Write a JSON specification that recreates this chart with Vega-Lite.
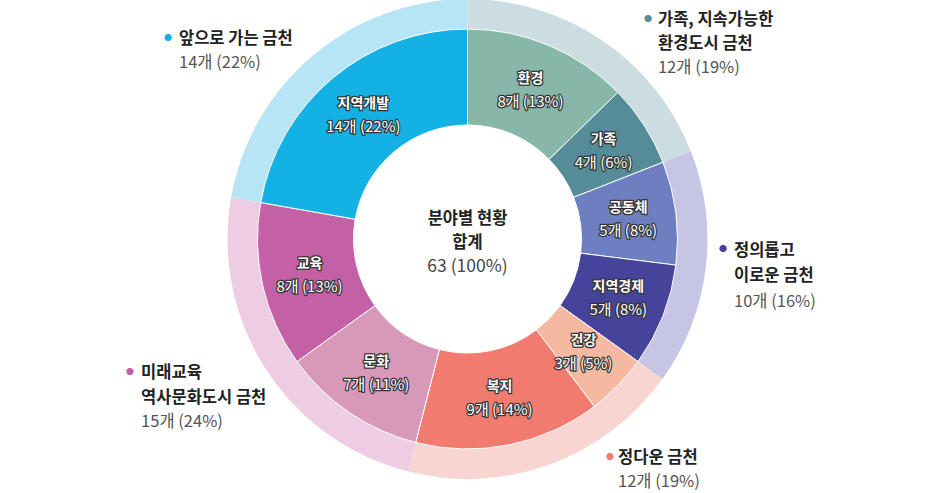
{
  "$schema": "https://vega.github.io/schema/vega-lite/v6.json",
  "width": 935,
  "height": 478,
  "autosize": "none",
  "padding": {"left": 0, "top": 0, "right": 1, "bottom": 15},
  "background": "white",
  "config": {"view": {"stroke": null}, "font": "Noto Sans CJK KR"},
  "datasets": {
    "inner": [
      {"o": 1, "name": "환경", "n": 8, "label": "8개 (13%)"},
      {"o": 2, "name": "가족", "n": 4, "label": "4개 (6%)"},
      {"o": 3, "name": "공동체", "n": 5, "label": "5개 (8%)"},
      {"o": 4, "name": "지역경제", "n": 5, "label": "5개 (8%)"},
      {"o": 5, "name": "건강", "n": 3, "label": "3개 (5%)"},
      {"o": 6, "name": "복지", "n": 9, "label": "9개 (14%)"},
      {"o": 7, "name": "문화", "n": 7, "label": "7개 (11%)"},
      {"o": 8, "name": "교육", "n": 8, "label": "8개 (13%)"},
      {"o": 9, "name": "지역개발", "n": 14, "label": "14개 (22%)"}
    ],
    "outer": [
      {"o": 1, "g": "가족, 지속가능한 환경도시 금천", "lines": "가족, 지속가능한\n환경도시 금천", "n": 12, "label": "12개 (19%)"},
      {"o": 2, "g": "정의롭고 이로운 금천", "lines": "정의롭고\n이로운 금천", "n": 10, "label": "10개 (16%)"},
      {"o": 3, "g": "정다운 금천", "lines": "정다운 금천", "n": 12, "label": "12개 (19%)"},
      {"o": 4, "g": "미래교육 역사문화도시 금천", "lines": "미래교육\n역사문화도시 금천", "n": 15, "label": "15개 (24%)"},
      {"o": 5, "g": "앞으로 가는 금천", "lines": "앞으로 가는 금천", "n": 14, "label": "14개 (22%)"}
    ],
    "center": [
      {"title": "분야별 현황\n합계", "total": "63 (100%)"}
    ]
  },
  "layer": [
    {
      "data": {"name": "outer"},
      "mark": {"type": "arc", "outerRadius": 240, "innerRadius": 210},
      "encoding": {
        "theta": {"field": "n", "type": "quantitative", "stack": true},
        "order": {"field": "o", "type": "quantitative"},
        "color": {
          "field": "g", "type": "nominal", "legend": null,
          "scale": {
            "domain": ["환경", "가족", "공동체", "지역경제", "건강", "복지", "문화", "교육", "지역개발",
                       "가족, 지속가능한 환경도시 금천", "정의롭고 이로운 금천", "정다운 금천", "미래교육 역사문화도시 금천", "앞으로 가는 금천"],
            "range": ["#86b7a8", "#558c98", "#6e7fc1", "#46449a", "#f5b8a0", "#f27b70", "#d898b8", "#c460a5", "#14b1e5",
                      "#cbdde1", "#c6c6e4", "#f9d5d1", "#eecde4", "#b8e5f6"]
          }
        }
      }
    },
    {
      "data": {"name": "inner"},
      "mark": {"type": "arc", "outerRadius": 210, "innerRadius": 114, "stroke": "white", "strokeWidth": 1},
      "encoding": {
        "theta": {"field": "n", "type": "quantitative", "stack": true},
        "order": {"field": "o", "type": "quantitative"},
        "color": {"field": "name", "type": "nominal", "legend": null}
      }
    },
    {
      "data": {"name": "inner"},
      "mark": {"type": "text", "radius": 162, "dy": -11, "fontSize": 14, "fontWeight": "bold", "color": "#333", "stroke": "#333", "strokeWidth": 2.5, "strokeJoin": "round", "baseline": "middle"},
      "encoding": {
        "theta": {"field": "n", "type": "quantitative", "stack": true},
        "order": {"field": "o", "type": "quantitative"},
        "detail": {"field": "name", "type": "nominal"},
        "text": {"field": "name", "type": "nominal"}
      }
    },
    {
      "data": {"name": "inner"},
      "mark": {"type": "text", "radius": 162, "dy": -11, "fontSize": 14, "fontWeight": "bold", "color": "white", "baseline": "middle"},
      "encoding": {
        "theta": {"field": "n", "type": "quantitative", "stack": true},
        "order": {"field": "o", "type": "quantitative"},
        "detail": {"field": "name", "type": "nominal"},
        "text": {"field": "name", "type": "nominal"}
      }
    },
    {
      "data": {"name": "inner"},
      "mark": {"type": "text", "radius": 162, "dy": 12, "fontSize": 15, "color": "#333", "stroke": "#333", "strokeWidth": 2.5, "strokeJoin": "round", "baseline": "middle"},
      "encoding": {
        "theta": {"field": "n", "type": "quantitative", "stack": true},
        "order": {"field": "o", "type": "quantitative"},
        "detail": {"field": "name", "type": "nominal"},
        "text": {"field": "label", "type": "nominal"}
      }
    },
    {
      "data": {"name": "inner"},
      "mark": {"type": "text", "radius": 162, "dy": 12, "fontSize": 15, "color": "white", "baseline": "middle"},
      "encoding": {
        "theta": {"field": "n", "type": "quantitative", "stack": true},
        "order": {"field": "o", "type": "quantitative"},
        "detail": {"field": "name", "type": "nominal"},
        "text": {"field": "label", "type": "nominal"}
      }
    },
    {
      "data": {"name": "center"},
      "mark": {"type": "text", "dy": -20, "fontSize": 16.5, "fontWeight": "bold", "color": "#222", "baseline": "middle", "align": "center", "lineBreak": "\n", "lineHeight": 24},
      "encoding": {"text": {"field": "title", "type": "nominal"}}
    },
    {
      "data": {"name": "center"},
      "mark": {"type": "text", "dy": 28, "fontSize": 17.5, "color": "#444", "baseline": "middle", "align": "center"},
      "encoding": {"text": {"field": "total", "type": "nominal"}}
    },

    {"data": {"name": "outer"}, "mark": {"type": "text", "radius": 260, "dx": 34, "dy": -4, "fontSize": 8, "color": "#558c98", "align": "center", "baseline": "middle"},
     "encoding": {"theta": {"field": "n", "type": "quantitative", "stack": true}, "order": {"field": "o", "type": "quantitative"}, "detail": {"field": "g", "type": "nominal"},
       "text": {"condition": {"test": "datum.o === 1", "value": "●"}, "value": ""}}},
    {"data": {"name": "outer"}, "mark": {"type": "text", "radius": 260, "dx": 44, "dy": -4, "fontSize": 16.5, "fontWeight": "bold", "color": "#222", "align": "left", "baseline": "middle", "lineBreak": "\n", "lineHeight": 24},
     "encoding": {"theta": {"field": "n", "type": "quantitative", "stack": true}, "order": {"field": "o", "type": "quantitative"}, "detail": {"field": "g", "type": "nominal"},
       "text": {"condition": {"test": "datum.o === 1", "field": "lines", "type": "nominal"}, "value": ""}}},
    {"data": {"name": "outer"}, "mark": {"type": "text", "radius": 260, "dx": 44, "dy": 44, "fontSize": 16.5, "color": "#555", "align": "left", "baseline": "middle"},
     "encoding": {"theta": {"field": "n", "type": "quantitative", "stack": true}, "order": {"field": "o", "type": "quantitative"}, "detail": {"field": "g", "type": "nominal"},
       "text": {"condition": {"test": "datum.o === 1", "field": "label", "type": "nominal"}, "value": ""}}},

    {"data": {"name": "outer"}, "mark": {"type": "text", "radius": 260, "dx": -2.5, "dy": -21, "fontSize": 8, "color": "#46449a", "align": "center", "baseline": "middle"},
     "encoding": {"theta": {"field": "n", "type": "quantitative", "stack": true}, "order": {"field": "o", "type": "quantitative"}, "detail": {"field": "g", "type": "nominal"},
       "text": {"condition": {"test": "datum.o === 2", "value": "●"}, "value": ""}}},
    {"data": {"name": "outer"}, "mark": {"type": "text", "radius": 260, "dx": 8.5, "dy": -20.5, "fontSize": 16.5, "fontWeight": "bold", "color": "#222", "align": "left", "baseline": "middle", "lineBreak": "\n", "lineHeight": 25},
     "encoding": {"theta": {"field": "n", "type": "quantitative", "stack": true}, "order": {"field": "o", "type": "quantitative"}, "detail": {"field": "g", "type": "nominal"},
       "text": {"condition": {"test": "datum.o === 2", "field": "lines", "type": "nominal"}, "value": ""}}},
    {"data": {"name": "outer"}, "mark": {"type": "text", "radius": 260, "dx": 8.5, "dy": 30.5, "fontSize": 16.5, "color": "#555", "align": "left", "baseline": "middle"},
     "encoding": {"theta": {"field": "n", "type": "quantitative", "stack": true}, "order": {"field": "o", "type": "quantitative"}, "detail": {"field": "g", "type": "nominal"},
       "text": {"condition": {"test": "datum.o === 2", "field": "label", "type": "nominal"}, "value": ""}}},

    {"data": {"name": "outer"}, "mark": {"type": "text", "radius": 260, "dx": 53.6, "dy": -25.3, "fontSize": 8, "color": "#f27b70", "align": "center", "baseline": "middle"},
     "encoding": {"theta": {"field": "n", "type": "quantitative", "stack": true}, "order": {"field": "o", "type": "quantitative"}, "detail": {"field": "g", "type": "nominal"},
       "text": {"condition": {"test": "datum.o === 3", "value": "●"}, "value": ""}}},
    {"data": {"name": "outer"}, "mark": {"type": "text", "radius": 260, "dx": 61.6, "dy": -25.3, "fontSize": 16.5, "fontWeight": "bold", "color": "#222", "align": "left", "baseline": "middle", "lineBreak": "\n", "lineHeight": 24},
     "encoding": {"theta": {"field": "n", "type": "quantitative", "stack": true}, "order": {"field": "o", "type": "quantitative"}, "detail": {"field": "g", "type": "nominal"},
       "text": {"condition": {"test": "datum.o === 3", "field": "lines", "type": "nominal"}, "value": ""}}},
    {"data": {"name": "outer"}, "mark": {"type": "text", "radius": 260, "dx": 61.6, "dy": -1.3, "fontSize": 16.5, "color": "#555", "align": "left", "baseline": "middle"},
     "encoding": {"theta": {"field": "n", "type": "quantitative", "stack": true}, "order": {"field": "o", "type": "quantitative"}, "detail": {"field": "g", "type": "nominal"},
       "text": {"condition": {"test": "datum.o === 3", "field": "label", "type": "nominal"}, "value": ""}}},

    {"data": {"name": "outer"}, "mark": {"type": "text", "radius": 260, "dx": -119, "dy": -7, "fontSize": 8, "color": "#c460a5", "align": "center", "baseline": "middle"},
     "encoding": {"theta": {"field": "n", "type": "quantitative", "stack": true}, "order": {"field": "o", "type": "quantitative"}, "detail": {"field": "g", "type": "nominal"},
       "text": {"condition": {"test": "datum.o === 4", "value": "●"}, "value": ""}}},
    {"data": {"name": "outer"}, "mark": {"type": "text", "radius": 260, "dx": -108, "dy": -7, "fontSize": 16.5, "fontWeight": "bold", "color": "#222", "align": "left", "baseline": "middle", "lineBreak": "\n", "lineHeight": 25},
     "encoding": {"theta": {"field": "n", "type": "quantitative", "stack": true}, "order": {"field": "o", "type": "quantitative"}, "detail": {"field": "g", "type": "nominal"},
       "text": {"condition": {"test": "datum.o === 4", "field": "lines", "type": "nominal"}, "value": ""}}},
    {"data": {"name": "outer"}, "mark": {"type": "text", "radius": 260, "dx": -108, "dy": 42, "fontSize": 16.5, "color": "#555", "align": "left", "baseline": "middle"},
     "encoding": {"theta": {"field": "n", "type": "quantitative", "stack": true}, "order": {"field": "o", "type": "quantitative"}, "detail": {"field": "g", "type": "nominal"},
       "text": {"condition": {"test": "datum.o === 4", "field": "label", "type": "nominal"}, "value": ""}}},

    {"data": {"name": "outer"}, "mark": {"type": "text", "radius": 260, "dx": -132.4, "dy": -0.8, "fontSize": 8, "color": "#14b1e5", "align": "center", "baseline": "middle"},
     "encoding": {"theta": {"field": "n", "type": "quantitative", "stack": true}, "order": {"field": "o", "type": "quantitative"}, "detail": {"field": "g", "type": "nominal"},
       "text": {"condition": {"test": "datum.o === 5", "value": "●"}, "value": ""}}},
    {"data": {"name": "outer"}, "mark": {"type": "text", "radius": 260, "dx": -121.4, "dy": -0.8, "fontSize": 16.5, "fontWeight": "bold", "color": "#222", "align": "left", "baseline": "middle", "lineBreak": "\n", "lineHeight": 24},
     "encoding": {"theta": {"field": "n", "type": "quantitative", "stack": true}, "order": {"field": "o", "type": "quantitative"}, "detail": {"field": "g", "type": "nominal"},
       "text": {"condition": {"test": "datum.o === 5", "field": "lines", "type": "nominal"}, "value": ""}}},
    {"data": {"name": "outer"}, "mark": {"type": "text", "radius": 260, "dx": -121.4, "dy": 23.2, "fontSize": 16.5, "color": "#555", "align": "left", "baseline": "middle"},
     "encoding": {"theta": {"field": "n", "type": "quantitative", "stack": true}, "order": {"field": "o", "type": "quantitative"}, "detail": {"field": "g", "type": "nominal"},
       "text": {"condition": {"test": "datum.o === 5", "field": "label", "type": "nominal"}, "value": ""}}}
  ]
}
